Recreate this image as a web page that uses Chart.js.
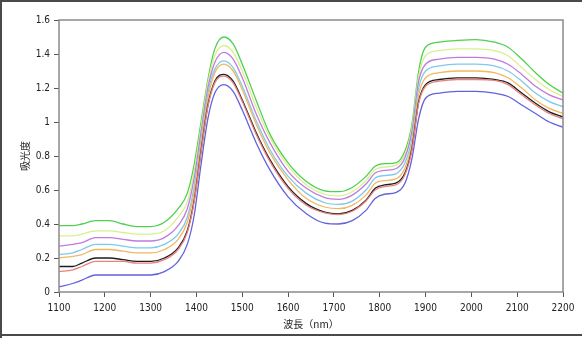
<!DOCTYPE html>
<html>
<head>
<meta charset="utf-8">
<script src="https://cdn.jsdelivr.net/npm/chart.js@4"></script>
<style>
  html, body { margin: 0; padding: 0; background: #fff; }
</style>
</head>
<body>
<canvas id="spec" width="582" height="338"></canvas>
<script>
// wavelengths (nm)
const wl = [1100,1130,1150,1180,1210,1240,1270,1300,1330,1360,1380,1395,1410,1425,1440,1460,1480,1500,1530,1560,1600,1640,1680,1710,1740,1770,1790,1810,1835,1855,1870,1885,1900,1930,1970,2010,2050,2080,2110,2140,2170,2200];

// absorbance per sample
const green  = [0.39,0.39,0.40,0.42,0.42,0.40,0.385,0.385,0.41,0.49,0.58,0.75,1.00,1.25,1.43,1.50,1.46,1.34,1.13,0.93,0.76,0.65,0.595,0.59,0.615,0.68,0.74,0.755,0.76,0.83,0.98,1.30,1.44,1.47,1.48,1.485,1.47,1.44,1.37,1.29,1.22,1.17];
const yellow = [0.33,0.33,0.34,0.36,0.36,0.35,0.34,0.34,0.36,0.44,0.53,0.71,0.97,1.23,1.39,1.45,1.41,1.30,1.09,0.91,0.74,0.63,0.575,0.565,0.59,0.655,0.72,0.735,0.745,0.81,0.96,1.27,1.39,1.42,1.43,1.43,1.42,1.39,1.32,1.25,1.19,1.15];
const violet = [0.27,0.28,0.29,0.32,0.32,0.31,0.30,0.30,0.32,0.39,0.49,0.67,0.94,1.20,1.35,1.41,1.37,1.26,1.05,0.88,0.71,0.61,0.555,0.545,0.57,0.635,0.70,0.715,0.725,0.79,0.94,1.24,1.34,1.37,1.38,1.38,1.37,1.34,1.28,1.21,1.16,1.13];
const cyan   = [0.22,0.23,0.25,0.28,0.28,0.27,0.26,0.26,0.28,0.34,0.44,0.62,0.90,1.17,1.31,1.36,1.32,1.21,1.01,0.84,0.68,0.58,0.525,0.515,0.535,0.60,0.67,0.685,0.695,0.76,0.90,1.20,1.30,1.33,1.34,1.34,1.33,1.30,1.24,1.17,1.12,1.09];
const orange = [0.20,0.21,0.22,0.25,0.25,0.24,0.23,0.23,0.25,0.31,0.41,0.59,0.87,1.14,1.29,1.34,1.30,1.19,0.99,0.82,0.66,0.55,0.50,0.49,0.51,0.57,0.64,0.655,0.665,0.73,0.87,1.16,1.26,1.29,1.30,1.30,1.29,1.26,1.20,1.13,1.08,1.05];
const black  = [0.15,0.15,0.17,0.20,0.20,0.19,0.18,0.18,0.20,0.26,0.36,0.54,0.83,1.10,1.24,1.28,1.24,1.13,0.94,0.78,0.62,0.52,0.47,0.46,0.48,0.54,0.61,0.63,0.64,0.70,0.84,1.12,1.22,1.25,1.26,1.26,1.25,1.23,1.17,1.11,1.06,1.03];
const red    = [0.12,0.13,0.15,0.18,0.18,0.18,0.17,0.17,0.19,0.25,0.35,0.53,0.82,1.09,1.23,1.27,1.23,1.12,0.93,0.77,0.61,0.51,0.465,0.455,0.475,0.535,0.60,0.62,0.63,0.69,0.83,1.11,1.21,1.24,1.25,1.25,1.245,1.22,1.16,1.10,1.05,1.02];
const blue   = [0.03,0.05,0.07,0.10,0.10,0.10,0.10,0.10,0.12,0.18,0.28,0.45,0.75,1.02,1.17,1.22,1.18,1.07,0.88,0.72,0.56,0.46,0.405,0.40,0.42,0.48,0.55,0.575,0.585,0.64,0.78,1.02,1.14,1.17,1.18,1.18,1.17,1.15,1.10,1.05,1.00,0.97];

const xTicks = ["1100","1200","1300","1400","1500","1600","1700","1800","1900","2000","2100","2200"];
const yTicks = ["0","0.2","0.4","0.6","0.8","1","1.2","1.4","1.6"];

const series = [
  { d: green,  c: "#4fd04f" },
  { d: yellow, c: "#d8f08c" },
  { d: violet, c: "#c07ae0" },
  { d: cyan,   c: "#80c8ec" },
  { d: orange, c: "#f0b860" },
  { d: black,  c: "#1e1e1e" },
  { d: red,    c: "#e88080" },
  { d: blue,   c: "#6262dc" },
];

// frame around plot area + outer border of the picture
const frames = {
  id: "frames",
  afterDraw(chart) {
    const ctx = chart.ctx, a = chart.chartArea;
    ctx.save();
    ctx.strokeStyle = "#8a8a8a";
    ctx.lineWidth = 1.5;
    ctx.strokeRect(a.left, a.top, a.right - a.left, a.bottom - a.top);
    ctx.strokeStyle = "#4a4a4a";
    ctx.lineWidth = 2;
    ctx.beginPath();
    ctx.moveTo(0, 1); ctx.lineTo(chart.width, 1);
    ctx.moveTo(1, 0); ctx.lineTo(1, chart.height);
    ctx.moveTo(0, chart.height - 3); ctx.lineTo(chart.width, chart.height - 3);
    ctx.stroke();
    ctx.restore();
  }
};

const tickFont = { family: "'DejaVu Sans Condensed', 'DejaVu Sans', sans-serif", size: 10 };
const titleFont = { family: "'Noto Sans CJK JP', sans-serif", size: 10 };
const label = (list) => (v) => list.find(t => parseFloat(t) === v);

new Chart(document.getElementById("spec"), {
  type: "line",
  data: {
    datasets: series.map((s, i) => ({
      label: "s" + (i + 1),
      data: wl.map((x, k) => ({ x: x, y: s.d[k] })),
      borderColor: s.c,
      borderWidth: 1.3,
      pointRadius: 0,
      cubicInterpolationMode: "monotone",
      fill: false,
    })).reverse(),
  },
  options: {
    responsive: false,
    animation: false,
    layout: { padding: { left: 0, right: 19, top: 20, bottom: 6 } },
    plugins: { legend: { display: false }, tooltip: { enabled: false } },
    scales: {
      x: {
        type: "linear",
        min: 1100,
        max: 2200,
        afterBuildTicks: (ax) => { ax.ticks = xTicks.map(v => ({ value: parseFloat(v) })); },
        afterFit: (ax) => { ax.height = 40; },
        grid: { display: true, drawOnChartArea: false, drawTicks: true, tickLength: 5, color: "#555" },
        border: { display: false },
        ticks: { color: "#222", font: tickFont, padding: 5, maxRotation: 0, autoSkip: false,
                 callback: label(xTicks) },
        title: { display: true, text: "波長（nm）", color: "#222", padding: { top: 0, bottom: 2 },
                 font: titleFont },
      },
      y: {
        min: 0,
        max: 1.6,
        afterBuildTicks: (ax) => { ax.ticks = yTicks.map(v => ({ value: parseFloat(v) })); },
        afterFit: (ax) => { ax.width = 59; },
        grid: { display: true, drawOnChartArea: false, drawTicks: true, tickLength: 5, color: "#555" },
        border: { display: false },
        ticks: { color: "#222", font: tickFont, padding: 4, autoSkip: false,
                 callback: label(yTicks) },
        title: { display: true, text: "吸光度", color: "#222", padding: { top: 19, bottom: 0 },
                 font: titleFont },
      },
    },
  },
  plugins: [frames],
});
</script>
</body>
</html>
